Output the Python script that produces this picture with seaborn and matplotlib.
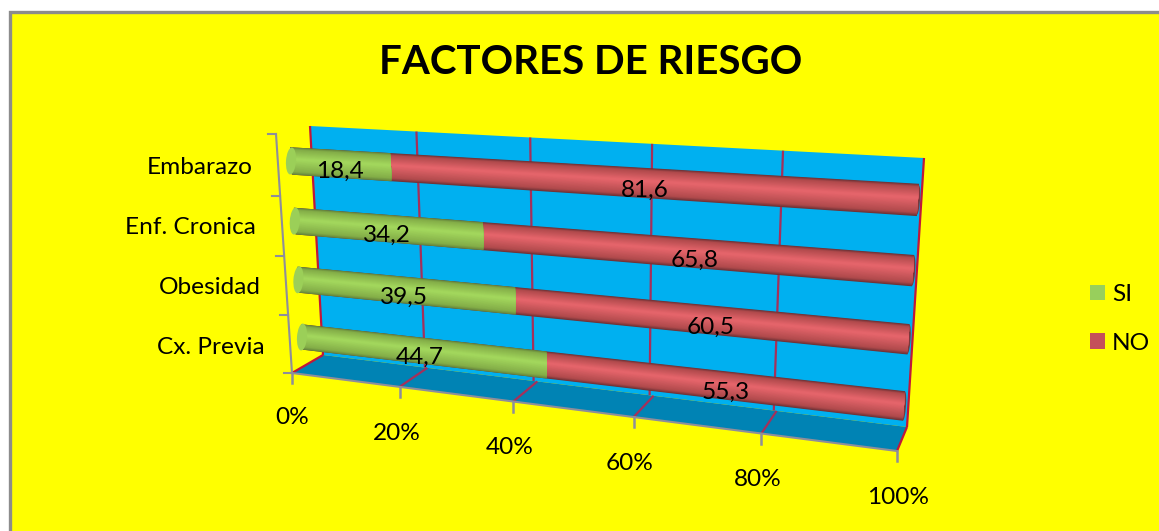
import numpy as np
import pandas as pd
import matplotlib
matplotlib.use("Agg")
import matplotlib.pyplot as plt
import matplotlib.transforms as mtransforms
from matplotlib.patches import Ellipse, Patch, Polygon, Rectangle
import seaborn as sns

# ------------------ data ------------------
categories = ["Embarazo", "Enf. Cronica", "Obesidad", "Cx. Previa"]
si_values = [18.4, 34.2, 39.5, 44.7]
no_values = [81.6, 65.8, 60.5, 55.3]
x_ticks = [0, 20, 40, 60, 80, 100]
x_tick_labels = ["0%", "20%", "40%", "60%", "80%", "100%"]
title = "FACTORES DE RIESGO"

W, H = 1159, 531
YELLOW = "#FFFF00"
FONT = "Lato"
TXT = 17.6
RED_LINE = "#C0173A"
GRID = "#A5305A"


class Persp(mtransforms.Transform):
    # homography: 4 corners of the data plane -> 4 corners in image pixels
    input_dims = 2
    output_dims = 2
    is_separable = False
    has_inverse = False

    def __init__(self, src, dst):
        super().__init__()
        A, b = [], []
        for (x, y), (u, v) in zip(src, dst):
            A.append([x, y, 1, 0, 0, 0, -u * x, -u * y])
            A.append([0, 0, 0, x, y, 1, -v * x, -v * y])
            b += [u, v]
        self.h = np.append(np.linalg.solve(np.array(A, float), np.array(b, float)), 1).reshape(3, 3)

    def transform_non_affine(self, values):
        values = np.asarray(values, float)
        p = np.column_stack([values, np.ones(len(values))]) @ self.h.T
        return p[:, :2] / p[:, 2:]


def blend(c1, c2, t):
    return tuple(np.array(matplotlib.colors.to_rgb(c1)) * (1 - t) + np.array(matplotlib.colors.to_rgb(c2)) * t)


df = pd.DataFrame({"cat": categories, "si": si_values, "no": no_values})
df["total"] = df["si"] + df["no"]

fig = plt.figure(figsize=(W / 100, H / 100), dpi=100, facecolor="white")
ax = fig.add_axes([0, 0, 1, 1])

# corners of the planes, in image pixels
wall_px = [(310, 126), (924, 158), (907, 427), (323, 355)]
floor_px = [(323, 355), (907, 427), (897, 451), (292, 373)]
bars_px = [(291, 161), (918, 200), (904, 406), (302, 337)]

floor_plane = Persp([(0, 0), (100, 0), (100, 1), (0, 1)], floor_px)
bars_plane = Persp([(0, 0), (100, 0), (100, 3), (0, 3)], bars_px)
wall = Persp([(0, 0), (100, 0), (100, 1), (0, 1)], wall_px) + ax.transData
floor = floor_plane + ax.transData
bars = bars_plane + ax.transData


def cylinder(col, edge, mid, dark_edge):
    # one barplot per shade, narrowing towards the highlight
    steps = 22
    for i in range(steps):
        t = i / (steps - 1)
        n = len(ax.patches)
        shade = blend(dark_edge, edge, min(t * 5, 1)) if t < 0.2 else blend(edge, mid, (t - 0.2) / 0.8)
        sns.barplot(data=df, y="cat", x=col, color=shade, saturation=1, width=0.45 * (1 - t * 0.92),
                    orient="h", errorbar=None, ax=ax, linewidth=0)
        for p in ax.patches[n:]:
            p.set_y(p.get_y() - 0.03 * t)
            p.set_transform(bars)
            p.set_zorder(3)


cylinder("total", "#B04A4C", "#E4646A", "#6F3236")
cylinder("si", "#84AE48", "#A2D65C", "#66853C")

ax.set_xlim(0, W)
ax.set_ylim(H, 0)
ax.axis("off")

# chart area background and border
ax.add_patch(Rectangle((9.5, 12), W, H, facecolor=YELLOW, edgecolor="#8C8C8C", linewidth=2.4, zorder=0))

# walls
ax.add_patch(Polygon(wall_px, facecolor="#00B0F0", edgecolor="none", zorder=1))
ax.add_patch(Polygon(floor_px, facecolor="#0083B4", edgecolor="none", zorder=1))
for t in x_ticks:
    c = RED_LINE if t in (0, 100) else GRID
    ax.plot([t, t], [0, 1], color=c, lw=1.6, transform=wall, zorder=2, solid_capstyle="butt")
    ax.plot([t, t], [0, 1], color=c, lw=1.6, transform=floor, zorder=2, solid_capstyle="butt")

# axis lines and ticks
AXIS = "#8E8E9A"
ax.plot([0, 100], [1, 1], color=AXIS, lw=1.5, transform=floor, zorder=2)
ax.plot([276, 292], [134, 373], color=AXIS, lw=1.5, zorder=2)
for tx, ty in zip([276, 280, 284, 288, 292], [134, 196, 256, 315, 373]):
    ax.plot([tx - 8, tx], [ty, ty], color=AXIS, lw=1.5, zorder=2)
for t in x_ticks:
    fx, fy = floor_plane.transform_non_affine([[t, 1]])[0]
    ax.plot([fx, fx], [fy, fy + 10], color=AXIS, lw=1.8, zorder=2)

# end caps
for i in range(len(categories)):
    lx, ly = bars_plane.transform_non_affine([[0, i], [100, i]])
    ax.add_patch(Ellipse(lx, 10, 27, angle=4, facecolor="#9BCF58", edgecolor="none", zorder=4))
    ax.add_patch(Ellipse(ly, 4, 29, angle=4, facecolor="#7A383C", edgecolor="none", zorder=2.9))

# value labels
si_label_t = bars + mtransforms.Affine2D().translate(0, -7)
no_label_t = bars + mtransforms.Affine2D().translate(9, -8)
for i, (s, n) in enumerate(zip(si_values, no_values)):
    ax.text(s / 2, i, f"{s:.1f}".replace(".", ","), transform=si_label_t, ha="center", va="center",
            fontsize=TXT, family=FONT, color="black", zorder=5)
    ax.text(s + n / 2, i, f"{n:.1f}".replace(".", ","), transform=no_label_t, ha="center", va="center",
            fontsize=TXT, family=FONT, color="black", zorder=5)

# category labels
for name, rx, ry in zip(categories, [253, 256, 261, 265], [167, 228, 288, 347]):
    ax.text(rx, ry, name, ha="right", va="center", fontsize=TXT, family=FONT, color="black")

# x tick labels
for lab, tx, ty in zip(x_tick_labels, [292, 397, 510, 630, 758, 898], [418, 433, 447, 463, 479, 498]):
    ax.text(tx, ty, lab, ha="center", va="center", fontsize=TXT, family=FONT, color="black")

ax.text(591, 63, title, ha="center", va="center", fontsize=29, fontweight="bold", family=FONT, color="black")

# legend
handles = [Patch(facecolor="#98CF5C", label="SI"), Patch(facecolor="#C4505A", label="NO")]
ax.legend(handles=handles, loc="upper left", bbox_to_anchor=(1090, 284), bbox_transform=ax.transData,
          frameon=False, prop={"family": FONT, "size": TXT}, handlelength=0.61, handleheight=0.61,
          handletextpad=0.3, labelspacing=1.14, borderpad=0, borderaxespad=0)

fig.savefig("out.png", dpi=100, facecolor="white")
